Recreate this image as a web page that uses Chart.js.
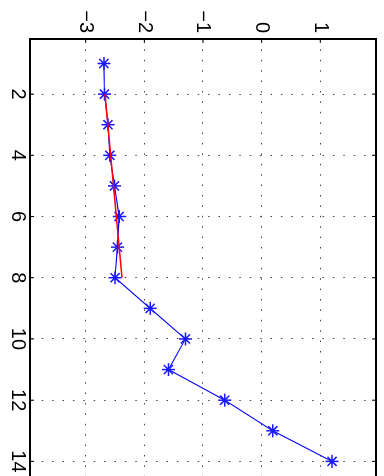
<!DOCTYPE html>
<html><head><meta charset="utf-8">
<script src="https://cdn.jsdelivr.net/npm/chart.js@4/dist/chart.umd.min.js"></script>
<style>
html,body{margin:0;padding:0;width:384px;height:476px;overflow:hidden;background:#fff;}
#wrap{position:absolute;left:0;top:0;width:500px;height:384px;transform-origin:0 0;transform:translateX(384px) rotate(90deg);}
canvas{display:block;}
</style></head><body>
<div id="wrap"><canvas id="c" width="500" height="384" style="width:500px;height:384px"></canvas></div>
<script>
// Data
const xValues = [1, 2, 3, 4, 5, 6, 7, 8, 9, 10, 11, 12, 13, 14];
const yValues = [-2.69, -2.68, -2.62, -2.59, -2.51, -2.43, -2.46, -2.50, -1.90, -1.30, -1.59, -0.63, 0.19, 1.20];
const fitX = [2, 8];
const fitY = [-2.67, -2.38];
const xTicks = [2, 4, 6, 8, 10, 12, 14];
const xTickLabels = ['2', '4', '6', '8', '10', '12', '14'];
const yTicks = [-3, -2, -1, 0, 1];
const yTickLabels = ['\u22123', '\u22122', '\u22121', '0', '1'];

const font = {family: "'Liberation Sans', Arial, Helvetica, sans-serif", size: 20};

const boxPlugin = {
  id: 'box',
  afterDraw(chart) {
    const {ctx, chartArea: a, scales: {x, y}} = chart;
    ctx.save();
    ctx.strokeStyle = '#000';
    ctx.lineWidth = 1;
    const L = 4;
    ctx.beginPath();
    xTicks.forEach(v => {
      const p = x.getPixelForValue(v);
      ctx.moveTo(p, a.bottom); ctx.lineTo(p, a.bottom - L);
      ctx.moveTo(p, a.top); ctx.lineTo(p, a.top + L);
    });
    yTicks.forEach(v => {
      const p = y.getPixelForValue(v);
      ctx.moveTo(a.left, p); ctx.lineTo(a.left + L, p);
      ctx.moveTo(a.right, p); ctx.lineTo(a.right - L, p);
    });
    ctx.stroke();
    ctx.lineWidth = 2;
    ctx.strokeRect(a.left, a.top, a.right - a.left, a.bottom - a.top);
    ctx.restore();
  }
};

new Chart(document.getElementById('c'), {
  type: 'scatter',
  data: {
    datasets: [
      {
        data: xValues.map((v, i) => ({x: v, y: yValues[i]})),
        showLine: true,
        borderColor: '#0000ff',
        borderWidth: 1.1,
        pointStyle: 'star',
        pointRadius: 6.5,
        pointBorderWidth: 1.5,
        pointBorderColor: '#1a1aff',
        pointBackgroundColor: '#1a1aff',
        order: 2
      },
      {
        data: fitX.map((v, i) => ({x: v, y: fitY[i]})),
        showLine: true,
        borderColor: '#ff0000',
        borderWidth: 1.5,
        pointRadius: 0,
        order: 1
      }
    ]
  },
  options: {
    responsive: false,
    animation: false,
    devicePixelRatio: 1,
    layout: {padding: {top: 8, left: 0, right: 6.6, bottom: 0}},
    plugins: {legend: {display: false}, tooltip: {enabled: false}},
    scales: {
      x: {
        type: 'linear',
        position: 'bottom',
        min: 0.2,
        max: 15,
        afterBuildTicks: s => { s.ticks = xTicks.map(v => ({value: v})); },
        afterFit: s => { s.height = 30; s.paddingLeft = 0; s.paddingRight = 0; },
        ticks: {
          autoSkip: false, maxRotation: 0, minRotation: 0, padding: 0,
          color: '#000', font: font,
          callback: v => xTickLabels[xTicks.indexOf(v)]
        },
        grid: {drawTicks: false, color: '#444', lineWidth: 1},
        border: {display: false, dash: [1.5, 8.9]}
      },
      y: {
        type: 'linear',
        position: 'left',
        min: -3.95,
        max: 1.95,
        afterBuildTicks: s => { s.ticks = yTicks.map(v => ({value: v})); },
        afterFit: s => { s.width = 39; s.paddingTop = 0; s.paddingBottom = 0; },
        ticks: {
          autoSkip: false, padding: 6,
          color: '#000', font: font,
          callback: v => yTickLabels[yTicks.indexOf(v)]
        },
        grid: {drawTicks: false, color: '#444', lineWidth: 1},
        border: {display: false, dash: [1.5, 8.9]}
      }
    }
  },
  plugins: [boxPlugin]
});
</script>
</body></html>
